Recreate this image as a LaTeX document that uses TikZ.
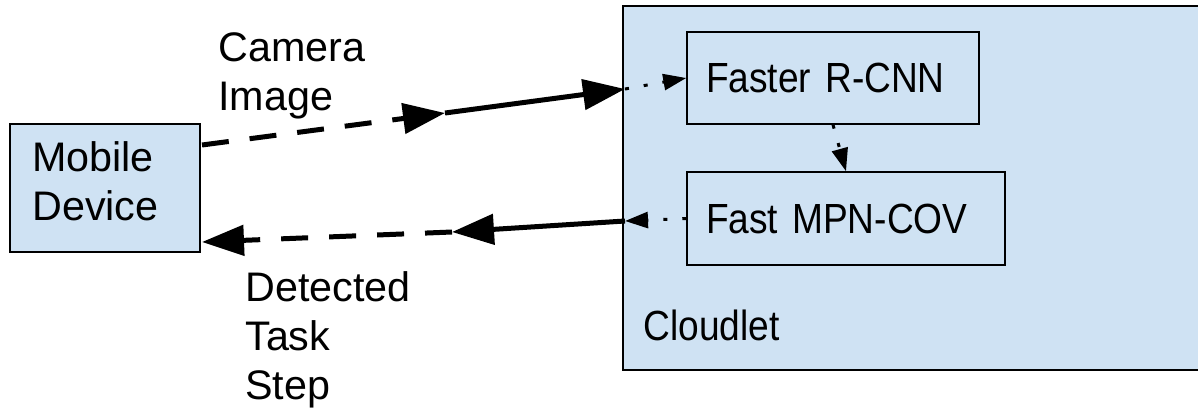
\documentclass[tikz,border=0pt]{standalone}
\usepackage{fontspec}
\setmainfont{Liberation Sans}
\newfontfamily\boxfont{Liberation Sans}[FakeStretch=0.88]
\usetikzlibrary{arrows.meta, positioning}
\definecolor{cloudblue}{RGB}{207,226,243}

\begin{document}
\begin{tikzpicture}[x=0.02cm, y=-0.02cm,
    box/.style={draw, line width=0.03cm, fill=cloudblue, align=left, inner xsep=0.38cm, font=\boxfont\fontsize{24}{28}\selectfont},
    lbl/.style={inner sep=0, align=left, font=\fontsize{23.5}{27.8}\selectfont},
    big/.style={-{Triangle[length=0.84cm, width=0.6cm]}, line width=0.1cm},
    small/.style={-{Triangle[length=0.46cm, width=0.32cm]}, line width=0.06cm, dash pattern=on 0.08cm off 0.3cm},
    dsh/.style={dash pattern=on 0.54cm off 0.42cm}
]
    \useasboundingbox (0,0) rectangle (1198,410);
    \clip (0,0) rectangle (1198,410);
    % boxes
    \node[draw, line width=0.04cm, fill=cloudblue, minimum width=11.84cm, minimum height=7.29cm] (cloudlet) at (919,188) {};
    \node[box, minimum width=3.8cm, minimum height=2.56cm] (mobile) at (105,188) {};
    \node[lbl, anchor=base west] (mobile txt) at (32,220) {Mobile\\Device};
    \node[box, minimum width=5.84cm, minimum height=1.84cm, text width=5.08cm] (rcnn) at (833,78) {Faster R-CNN};
    \node[box, minimum width=6.36cm, minimum height=1.86cm, text width=5.6cm] (mpn) at (846,218.5) {Fast MPN-COV};
    \node[lbl, font=\boxfont\fontsize{24}{28}\selectfont, anchor=base west] (cloud lbl) at (643,340) {Cloudlet};
    % labels
    \node[lbl, anchor=base west] (cam lbl) at (218,110) {Camera\\Image};
    \node[lbl, anchor=base west] (det lbl) at (245,399) {Detected\\Task\\Step};
    % arrow ends
    \coordinate (cam out) at (202,145);
    \coordinate (cam mid) at (445,113);
    \coordinate (cam in) at (625,89);
    \coordinate (det in) at (625,221);
    \coordinate (det mid) at (452,232);
    \coordinate (det out) at (202,242);
    \draw[big, dsh] (cam out) -- (cam mid);
    \draw[big] (cam mid) -- (cam in);
    \draw[small] (cam in) -- (rcnn.west);
    \draw[small] (rcnn.south) -- (mpn.north);
    \draw[small] (mpn.west) -- (det in);
    \draw[big] (det in) -- (det mid);
    \draw[big, dsh] (det mid) -- (det out);
\end{tikzpicture}
\end{document}
